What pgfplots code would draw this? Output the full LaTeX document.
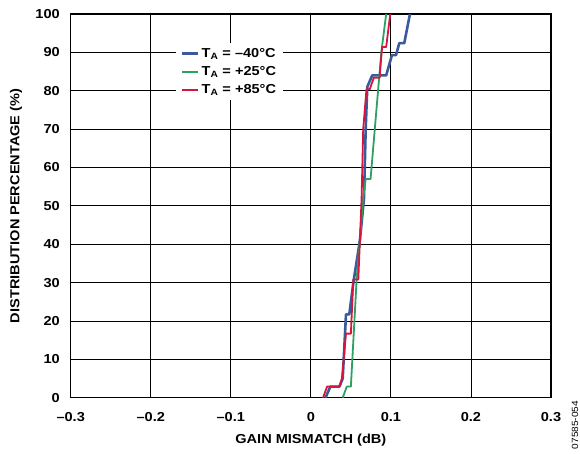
\documentclass[border=0pt]{standalone}
\usepackage{fontspec}
\setmainfont{Liberation Sans}[FakeStretch=1.12]
\usepackage{pgfplots}
\pgfplotsset{compat=1.18}
\definecolor{cblue}{RGB}{58,90,155}
\definecolor{cgreen}{RGB}{46,160,100}
\definecolor{cred}{RGB}{215,20,60}
\newcommand{\lbl}{\fontsize{13}{15}\selectfont\bfseries}
\begin{document}
\lbl
\begin{tikzpicture}
\path[use as bounding box] (-70.7pt,-55.3pt) rectangle (509.3pt,397.7pt);
\begin{axis}[
  at={(0pt,0pt)}, anchor=south west,
  scale only axis, width=480.3pt, height=383.7pt,
  xmin=-0.3, xmax=0.3, ymin=0, ymax=100,
  xtick={-0.3,-0.2,-0.1,0,0.1,0.2,0.3},
  xticklabels={–0.3,–0.2,–0.1,0,0.1,0.2,0.3},
  ytick={0,10,...,100},
  grid=major,
  grid style={black, line width=0.9pt},
  axis line style={black, line width=1.4pt},
  tick style={draw=none},
  /pgf/number format/assume math mode=true,
  ticklabel style={font=\lbl},
  yticklabel style={anchor=east, xshift=-6.4pt},
  xticklabel style={anchor=north, yshift=-9.7pt},
  xlabel={GAIN MISMATCH (dB)},
  ylabel={DISTRIBUTION PERCENTAGE (\%)},
  label style={font=\lbl},
  xlabel style={at={(axis description cs:0.5,-0.1102)}, anchor=center},
  ylabel style={at={(axis description cs:-0.1139,0.5)}, anchor=center, rotate=0},
  legend style={at={(0.219,0.925)}, anchor=north west, draw=none, fill=white,
    font=\lbl, row sep=3.2pt,
    inner xsep=5pt, inner ysep=3pt},
  legend cell align=left,
  legend image code/.code={\draw[#1] (0pt,0pt) -- (12pt,0pt); \path (0pt,0pt) -- (16pt,0pt);},
]
\addplot[cblue, line width=2.6pt, line join=round] coordinates {
(0.0183,0) (0.0244,2.9) (0.0357,2.9) (0.0398,5) (0.0439,21.7) (0.048,21.7)
(0.0531,30) (0.0613,41) (0.0664,52) (0.0685,70) (0.0705,81) (0.0767,84)
(0.0941,84) (0.1013,89.3) (0.1064,89.3) (0.1105,92.4) (0.1167,92.4) (0.1238,100)};
\addlegendentry{T\textsubscript{A} = –40°C}
\addplot[cgreen, line width=1.8pt, line join=round] coordinates {
(0.0398,0) (0.0449,2.9) (0.05,2.9) (0.0572,30.8) (0.0654,52) (0.0685,57)
(0.0746,57) (0.088,90) (0.0941,100)};
\addlegendentry{T\textsubscript{A} = +25°C}
\addplot[cred, line width=1.8pt, line join=round] coordinates {
(0.0152,0) (0.0203,2.9) (0.0357,2.9) (0.0388,5) (0.0439,16.7) (0.05,16.7)
(0.0531,30.8) (0.0593,30.8) (0.0634,52) (0.0654,70) (0.0695,80.4) (0.0736,80.4)
(0.0787,83.4) (0.0859,83.4) (0.089,91.4) (0.0941,91.4) (0.0992,100)};
\addlegendentry{T\textsubscript{A} = +85°C}
\end{axis}
\node[rotate=90, anchor=center, font=\fontsize{9}{10}\selectfont\mdseries] at (504.3pt,-27.3pt) {07585-054};
\end{tikzpicture}
\end{document}
